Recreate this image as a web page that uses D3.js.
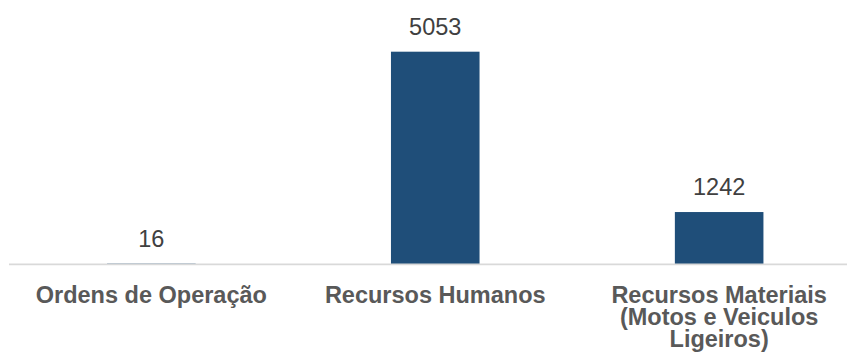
<!DOCTYPE html>
<html>
<head>
<meta charset="utf-8">
<script src="https://cdn.jsdelivr.net/npm/d3@7"></script>
<style>
  html, body { margin: 0; padding: 0; background: #ffffff; }
  svg { display: block; }
</style>
</head>
<body>
<svg id="chart" width="847" height="359"></svg>
<script>
const categories = ["Ordens de Operação", "Recursos Humanos", "Recursos Materiais (Motos e Veiculos Ligeiros)"];
const values = [16, 5053, 1242];

const W = 847, H = 359;
const svg = d3.select("#chart");

const x = d3.scaleBand()
  .domain(categories)
  .range([9.4, 861.1])
  .paddingInner(0.688)
  .paddingOuter(0.344);

const y = d3.scaleLinear()
  .domain([0, 6000])
  .range([264.3, 11.85]);

const font = "'Liberation Sans', Arial, sans-serif";
const fs = "23.5px";

// bars
svg.append("g").selectAll("rect")
  .data(values)
  .join("rect")
  .attr("x", (d, i) => x(categories[i]))
  .attr("y", d => y(d))
  .attr("width", x.bandwidth())
  .attr("height", d => y(0) - y(d))
  .attr("fill", "#1F4E79");

// axis line
svg.append("line")
  .attr("x1", 9).attr("x2", W)
  .attr("y1", y(0)).attr("y2", y(0))
  .attr("stroke", "#d9d9d9")
  .attr("stroke-width", 1.8);

// value labels
svg.append("g").selectAll("text")
  .data(values)
  .join("text")
  .attr("x", (d, i) => x(categories[i]) + x.bandwidth() / 2)
  .attr("y", d => y(d) - 17)
  .attr("text-anchor", "middle")
  .attr("font-family", font)
  .attr("font-size", fs)
  .attr("fill", "#404040")
  .text(d => d);

// category labels with wrapping
const maxW = 260;
const measure = svg.append("text")
  .attr("font-family", font).attr("font-size", fs).attr("font-weight", "bold")
  .attr("visibility", "hidden");
function wrap(str) {
  const words = str.split(" ");
  const lines = [];
  let cur = "";
  words.forEach(w => {
    const test = cur ? cur + " " + w : w;
    measure.text(test);
    if (measure.node().getComputedTextLength() > maxW && cur) {
      lines.push(cur);
      cur = w;
    } else cur = test;
  });
  if (cur) lines.push(cur);
  return lines;
}

const labels = svg.append("g");
categories.forEach(c => {
  const t = labels.append("text")
    .attr("x", x(c) + x.bandwidth() / 2)
    .attr("y", 303)
    .attr("text-anchor", "middle")
    .attr("font-family", font)
    .attr("font-size", fs)
    .attr("font-weight", "bold")
    .attr("fill", "#595959");
  wrap(c).forEach((line, j) => {
    t.append("tspan")
      .attr("x", x(c) + x.bandwidth() / 2)
      .attr("dy", j === 0 ? 0 : 22)
      .text(line);
  });
});
measure.remove();
</script>
</body>
</html>
